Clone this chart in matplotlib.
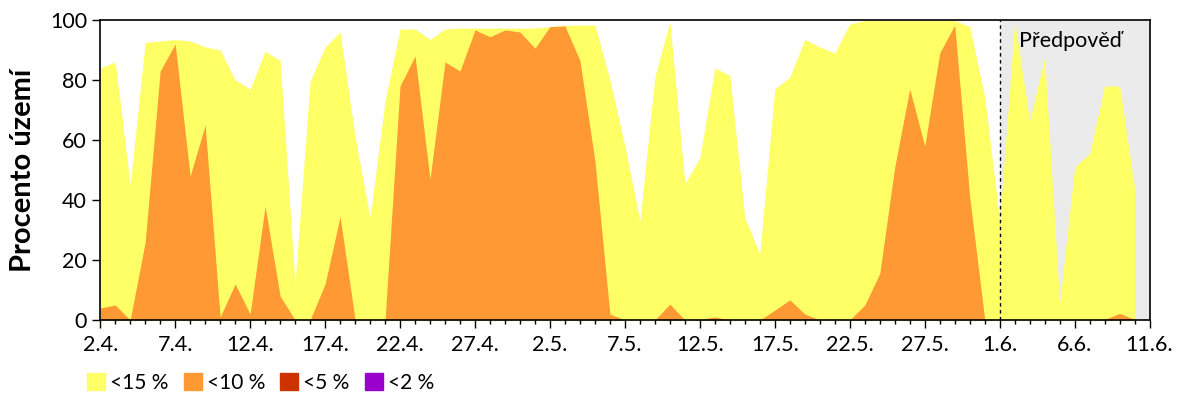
import matplotlib.pyplot as plt
import matplotlib.patches as mpatches
from matplotlib.ticker import MultipleLocator
import numpy as np
import pandas as pd

plt.rcParams['font.family'] = ['Lato', 'DejaVu Sans']

# Daily values 2.4. - 10.6. (percent of territory)
dates = pd.date_range('2024-04-02', '2024-06-10', freq='D')
pct15 = [84, 86, 45, 92.5, 93, 93.5, 93, 91, 90, 80,
         77, 89.5, 86.5, 12, 79.5, 91, 96, 61, 34, 73,
         97, 97, 93.5, 97, 97.3, 97.3, 97.3, 97.3, 97.3, 97.3,
         97.8, 98.2, 98.3, 98.3, 80, 58, 33, 81, 99.5, 45.5,
         54, 84, 81.5, 34, 22, 77, 81, 93.5, 91, 89,
         98.7, 99.8, 99.8, 99.8, 99.8, 99.8, 99.8, 99.8, 97.8, 74.5,
         33, 99.5, 66.5, 87.5, 5.5, 51, 55.5, 78, 78, 44]
pct10 = [4, 5, 0, 26, 83, 92, 48, 65, 1, 12,
         2, 38, 8, 0, 0, 12, 34.5, 0.2, 0, 0,
         78, 88, 47, 86, 83, 96.7, 94.4, 96.7, 96, 90.6,
         97.8, 98, 86.5, 53, 2, 0, 0, 0, 5.3, 0,
         0.2, 1, 0, 0, 0, 3.3, 6.7, 2, 0, 0,
         0, 5, 15.5, 51, 77, 58, 89, 98.3, 41, 0.2,
         0, 0, 0, 0, 0, 0, 0, 0.2, 2.2, 0.2]
pct5 = [0] * len(dates)
pct2 = [0] * len(dates)

labels = ['<15 %', '<10 %', '<5 %', '<2 %']
colors = ['#FFFF66', '#FF9933', '#CC3300', '#9900CC']
forecast_start = 60   # 1.6.
tick_labels = ['2.4.', '7.4.', '12.4.', '17.4.', '22.4.', '27.4.', '2.5.',
               '7.5.', '12.5.', '17.5.', '22.5.', '27.5.', '1.6.', '6.6.', '11.6.']

x = np.arange(len(dates))

fig, ax = plt.subplots(figsize=(12, 4), dpi=100)
fig.subplots_adjust(left=0.0835, right=0.958, top=0.95, bottom=0.2)

# forecast background
ax.axvspan(forecast_start, 70, color='#EBEBEB', zorder=0, lw=0)

for vals, c in zip([pct15, pct10, pct5, pct2], colors):
    ax.fill_between(x, 0, vals, color=c, lw=0, zorder=1)

ax.axvline(forecast_start, color='black', lw=1, ls=(0, (2.5, 2.5)), zorder=3)
ax.text(forecast_start + 1.3, 93, 'Předpověď', fontsize=15.5, va='center', ha='left')

ax.set_xlim(0, 70)
ax.set_ylim(0, 100)
ax.set_xticks(np.arange(0, 71, 5))
ax.set_xticklabels(tick_labels)
ax.xaxis.set_minor_locator(MultipleLocator(1))
ax.set_yticks(np.arange(0, 101, 20))
ax.tick_params(axis='both', which='major', labelsize=15.5, length=6, width=1)
ax.tick_params(axis='x', which='minor', length=3, width=1)
ax.tick_params(axis='x', pad=5)
ax.set_ylabel('Procento území', fontsize=21, fontweight='bold', labelpad=10)
for sp in ax.spines.values():
    sp.set_linewidth(1.2)

handles = [mpatches.Patch(color=c, label=l) for c, l in zip(colors, labels)]
fig.legend(handles=handles, loc='center left', bbox_to_anchor=(0.064, 0.043),
           ncol=4, frameon=False, fontsize=15, handlelength=0.87, handleheight=0.87,
           handletextpad=0.24, columnspacing=0.72, borderpad=0)

plt.savefig('out.png', dpi=100)
